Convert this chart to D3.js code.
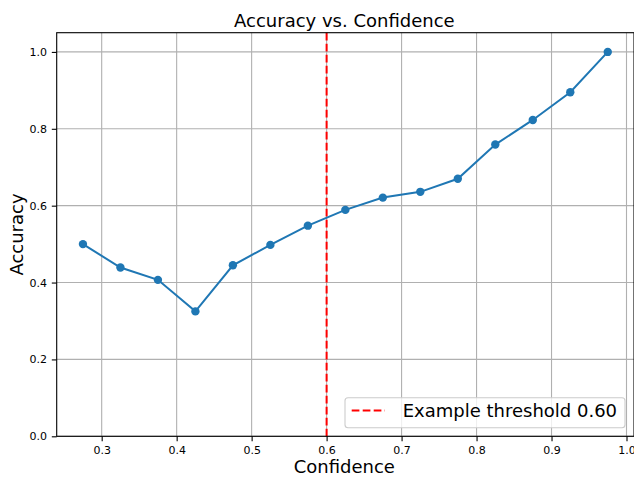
<!DOCTYPE html>
<html>
<head>
<meta charset="utf-8">
<script src="https://cdn.jsdelivr.net/npm/d3@7"></script>
<style>
  html, body { margin: 0; padding: 0; background: #fff; }
  svg { display: block; font-family: "DejaVu Sans", sans-serif; }
</style>
</head>
<body>
<svg id="chart" width="634" height="477"></svg>
<script>
// binned confidence centers and observed accuracy
const confidence = [0.275, 0.325, 0.375, 0.425, 0.475, 0.525, 0.575, 0.625, 0.675, 0.725, 0.775, 0.825, 0.875, 0.925, 0.975]
const accuracy = [0.500, 0.439, 0.407, 0.325, 0.445, 0.498, 0.548, 0.589, 0.621, 0.636, 0.670, 0.759, 0.823, 0.895, 1.000]
const xTicks = [0.3, 0.4, 0.5, 0.6, 0.7, 0.8, 0.9, 1.0]
const yTicks = [0.0, 0.2, 0.4, 0.6, 0.8, 1.0]
const threshold = 0.60

const svg = d3.select("#chart")
const plotLeft = 56.7, plotRight = 634, plotTop = 32.7, plotBottom = 436.3

const x = d3.scaleLinear().domain([0.24, 1.01]).range([plotLeft, plotRight])
const y = d3.scaleLinear().domain([0, 1.05]).range([plotBottom, plotTop])

const g = svg.append("g")

// grid
g.append("g")
  .selectAll("line")
  .data(xTicks)
  .join("line")
  .attr("x1", (d) => x(d)).attr("x2", (d) => x(d))
  .attr("y1", plotTop).attr("y2", plotBottom)
  .attr("stroke", "#b0b0b0").attr("stroke-width", 1.1)

g.append("g")
  .selectAll("line")
  .data(yTicks)
  .join("line")
  .attr("x1", plotLeft).attr("x2", plotRight)
  .attr("y1", (d) => y(d)).attr("y2", (d) => y(d))
  .attr("stroke", "#b0b0b0").attr("stroke-width", 1.1)

// axes
const xAxis = d3.axisBottom(x).tickValues(xTicks).tickFormat(d3.format(".1f")).tickSizeOuter(0).tickSize(4.9).tickPadding(4.9)
const yAxis = d3.axisLeft(y).tickValues(yTicks).tickFormat(d3.format(".1f")).tickSizeOuter(0).tickSize(4.9).tickPadding(4.9)

const gx = g.append("g").attr("transform", `translate(0,${plotBottom})`).call(xAxis)
const gy = g.append("g").attr("transform", `translate(${plotLeft},0)`).call(yAxis)
for (const ax of [gx, gy]) {
  ax.select(".domain").remove()
  ax.selectAll(".tick line").attr("stroke", "#000").attr("stroke-width", 1.1)
  ax.selectAll(".tick text").attr("fill", "#000").attr("font-size", 11).attr("font-family", "DejaVu Sans")
}

// threshold line
g.append("line")
  .attr("x1", x(threshold)).attr("x2", x(threshold))
  .attr("y1", plotTop).attr("y2", plotBottom)
  .attr("stroke", "#ff0000").attr("stroke-width", 2)
  .attr("stroke-dasharray", "7.7,3.3")

// series
const line = d3.line().x((d, i) => x(confidence[i])).y((d) => y(d))
g.append("path")
  .datum(accuracy)
  .attr("d", line)
  .attr("fill", "none")
  .attr("stroke", "#1f77b4")
  .attr("stroke-width", 2)

g.append("g")
  .selectAll("circle")
  .data(accuracy)
  .join("circle")
  .attr("cx", (d, i) => x(confidence[i]))
  .attr("cy", (d) => y(d))
  .attr("r", 4.2)
  .attr("fill", "#1f77b4")

// frame
g.append("rect")
  .attr("x", plotLeft).attr("y", plotTop)
  .attr("width", plotRight - plotLeft).attr("height", plotBottom - plotTop)
  .attr("fill", "none").attr("stroke", "#000").attr("stroke-width", 1.1)

// legend
const lg = g.append("g")
lg.append("rect")
  .attr("x", 345).attr("y", 397.7).attr("width", 280).attr("height", 30)
  .attr("rx", 3).attr("fill", "rgba(255,255,255,0.8)")
  .attr("stroke", "#cccccc").attr("stroke-width", 1.1)
lg.append("line")
  .attr("x1", 351.7).attr("x2", 385).attr("y1", 410.5).attr("y2", 410.5)
  .attr("stroke", "#ff0000").attr("stroke-width", 2).attr("stroke-dasharray", "7.7,3.3")
lg.append("text")
  .attr("x", 402.7).attr("y", 417)
  .attr("font-size", 18).attr("fill", "#000")
  .text(`Example threshold ${threshold.toFixed(2)}`)

// titles
svg.append("text")
  .attr("x", (plotLeft + 634) / 2 - 1).attr("y", 27)
  .attr("text-anchor", "middle").attr("font-size", 18)
  .text("Accuracy vs. Confidence")

svg.append("text")
  .attr("x", (plotLeft + 634) / 2 - 1).attr("y", 473)
  .attr("text-anchor", "middle").attr("font-size", 18)
  .text("Confidence")

svg.append("text")
  .attr("transform", `translate(23,${(plotTop + plotBottom) / 2}) rotate(-90)`)
  .attr("text-anchor", "middle").attr("font-size", 18)
  .text("Accuracy")
</script>
</body>
</html>
